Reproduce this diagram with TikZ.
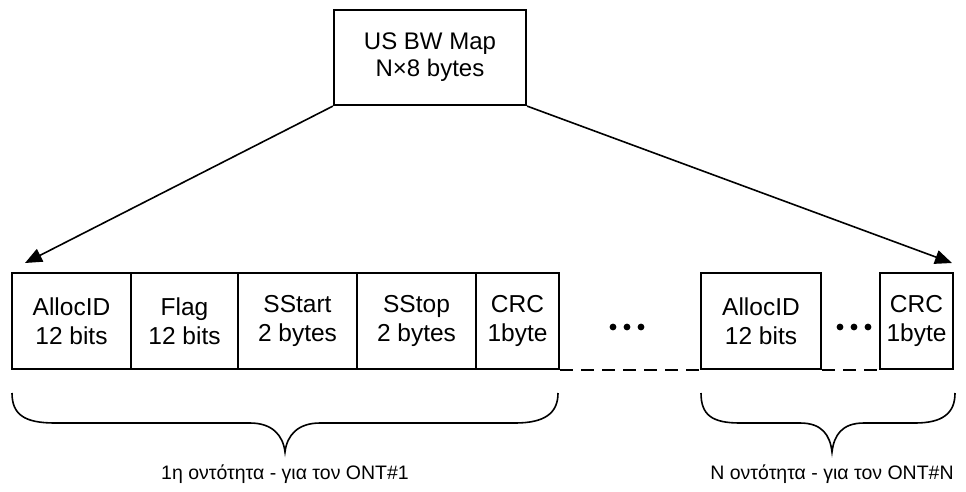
\documentclass[tikz,border=0pt]{standalone}
\usepackage{fontspec}
\setmainfont{Liberation Sans}
\usetikzlibrary{arrows.meta}
\begin{document}
\begin{tikzpicture}[x=1pt,y=-1pt,
  field/.style={draw,line width=2.2pt,minimum height=96pt,inner sep=0pt,align=center,
    font=\fontsize{24.5}{29}\selectfont},
  pointer/.style={line width=1.6pt,-{Triangle[length=17pt,width=14pt]}},
  brace/.style={line width=1.6pt},
  caption/.style={font=\fontsize{19.5}{23}\selectfont}]
\useasboundingbox (0,0) rectangle (966,491);
% header
\node[field,minimum width=192pt,minimum height=95pt,font=\fontsize{24}{27}\selectfont]
  (map) at (430,57.5) {US BW Map\\N\texttimes 8 bytes};
% first entry
\node[field,minimum width=119pt] (alloc1) at (71.5,321) {AllocID\\12 bits};
\node[field,minimum width=107pt] (flag1) at (184.5,321) {Flag\\12 bits};
\node[field,minimum width=119pt] (sstart1) at (297.5,321) {SStart\\2 bytes};
\node[field,minimum width=119pt] (sstop1) at (416.5,321) {SStop\\2 bytes};
\node[field,minimum width=83pt] (crc1) at (517.5,321) {CRC\\1byte};
% last entry
\node[field,minimum width=120pt] (allocN) at (761,321) {AllocID\\12 bits};
\node[field,minimum width=73pt] (crcN) at (916.5,321) {CRC\\1byte};
\foreach \x in {613,627,641,840,854,868}
  \fill (\x,327) circle (3.4pt);
\draw[line width=1.8pt,dash pattern=on 13pt off 8pt] (crc1.south east) -- (allocN.south west);
\draw[line width=1.8pt,dash pattern=on 13pt off 8pt] (allocN.south east) -- (crcN.south west);
% pointers
\coordinate (tipL) at (25,263);
\coordinate (tipR) at (952,263);
\draw[pointer] (map.south west) -- (tipL);
\draw[pointer] (map.south east) -- (tipR);
% braces
\draw[brace] (12,393) .. controls (12,415) and (25,423) .. (55,423) -- (250,423)
  .. controls (272,423) and (283,435) .. (285,452)
  .. controls (287,435) and (298,423) .. (320,423) -- (515,423)
  .. controls (545,423) and (558,413) .. (558,393);
\draw[brace] (701,393) .. controls (701,415) and (712,423) .. (740,423) -- (800,423)
  .. controls (822,423) and (830,435) .. (832,452)
  .. controls (834,435) and (842,423) .. (864,423) -- (915,423)
  .. controls (943,423) and (955,413) .. (955,393);
\node[caption] (cap1) at (285,474) {1η οντότητα - για τον ONT\#1};
\node[caption] (capN) at (832,474) {N οντότητα - για τον ONT\#N};
\end{tikzpicture}
\end{document}
